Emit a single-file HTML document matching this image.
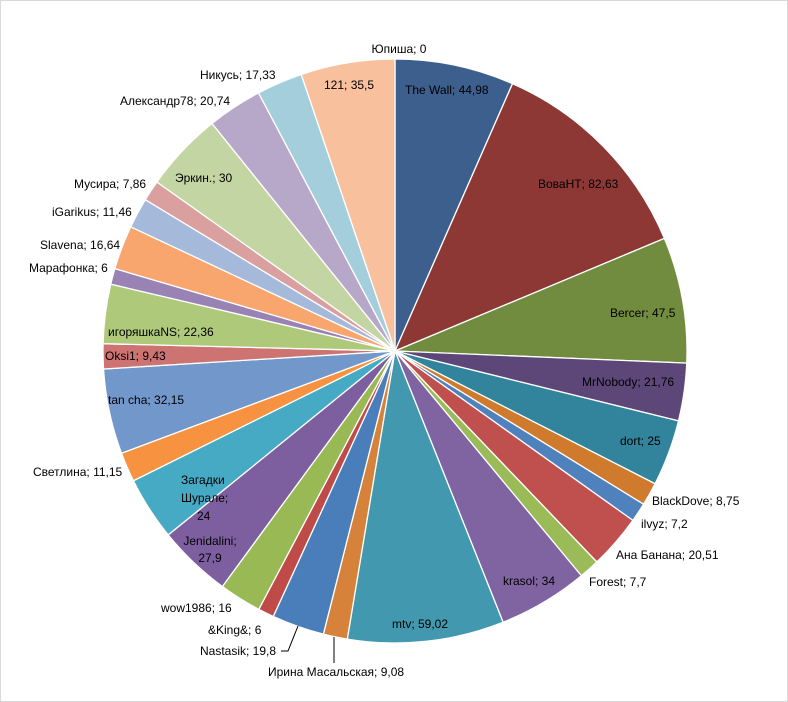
<!DOCTYPE html><html><head><meta charset="utf-8"><style>
body{margin:0;background:#fff}
#w{position:relative;width:786px;height:700px;border:1px solid #d9d9d9;overflow:hidden}
svg text{font-family:"Liberation Sans","DejaVu Sans",sans-serif;font-size:12px;fill:#000}
</style></head><body><div id="w">
<svg id="s" width="786" height="700" xmlns="http://www.w3.org/2000/svg">
<g id="p"></g>
<g>
<polyline points="297,625 287,650 280,650" fill="none" stroke="#000" stroke-width="1"/>
<line x1="333" y1="636" x2="333" y2="662" stroke="#000" stroke-width="1"/>
<text x="398" y="52" text-anchor="middle">Юпиша; 0</text>
<text x="404" y="93">The Wall; 44,98</text>
<text x="537" y="187">ВоваНТ; 82,63</text>
<text x="609" y="316">Bercer; 47,5</text>
<text x="581" y="385">MrNobody; 21,76</text>
<text x="619" y="444">dort; 25</text>
<text x="651" y="504">BlackDove; 8,75</text>
<text x="640" y="527">ilvyz; 7,2</text>
<text x="615" y="558">Ана Банана; 20,51</text>
<text x="588" y="585">Forest; 7,7</text>
<text x="502" y="584">krasol; 34</text>
<text x="391" y="627">mtv; 59,02</text>
<text x="267" y="675">Ирина Масальская; 9,08</text>
<text x="199" y="654">Nastasik; 19,8</text>
<text x="207" y="633">&amp;King&amp;; 6</text>
<text x="160" y="611">wow1986; 16</text>
<text x="209" y="544" text-anchor="middle">Jenidalini;</text>
<text x="209" y="561" text-anchor="middle">27,9</text>
<text x="180" y="483">Загадки</text>
<text x="180" y="501">Шурале;</text>
<text x="196" y="519">24</text>
<text x="32" y="475">Светлина; 11,15</text>
<text x="107" y="403">tan cha; 32,15</text>
<text x="104" y="359">Oksi1; 9,43</text>
<text x="107" y="335">игоряшкаNS; 22,36</text>
<text x="28" y="271">Марафонка; 6</text>
<text x="39" y="248">Slavena; 16,64</text>
<text x="51" y="215">iGarikus; 11,46</text>
<text x="73" y="187">Мусира; 7,86</text>
<text x="174" y="181">Эркин.; 30</text>
<text x="119" y="104">Александр78; 20,74</text>
<text x="199" y="78">Никусь; 17,33</text>
<text x="323" y="88">121; 35,5</text>
</g>
</svg>
<script>
var d=[[44.98,"#3D5F8E"],[82.63,"#8E3836"],[47.5,"#728C3F"],[21.76,"#5D4779"],[25,"#31849B"],[8.75,"#D07A2E"],[7.2,"#4F81BD"],[20.51,"#C0504D"],[7.7,"#9BBB59"],[34,"#8064A2"],[59.02,"#4198AF"],[9.08,"#D6823A"],[19.8,"#4A7EBB"],[6,"#BE4B48"],[16,"#98B954"],[27.9,"#7D5FA0"],[24,"#46AAC5"],[11.15,"#F69240"],[32.15,"#7297CB"],[9.43,"#CD7371"],[22.36,"#AFC97A"],[6,"#9983B5"],[16.64,"#F8A56E"],[11.46,"#A5B9DA"],[7.86,"#D9A09F"],[30,"#C3D5A2"],[20.74,"#B7A8CA"],[17.33,"#A5CEDC"],[35.5,"#F9C09D"]];
var cx=394,cy=350,r=292,t=0,sum=0;d.forEach(function(x){sum+=x[0]});
var h="";
d.forEach(function(x){var a0=t/sum*2*Math.PI;t+=x[0];var a1=t/sum*2*Math.PI;
var x0=cx+r*Math.sin(a0),y0=cy-r*Math.cos(a0),x1=cx+r*Math.sin(a1),y1=cy-r*Math.cos(a1);
var lg=(a1-a0)>Math.PI?1:0;
h+='<path d="M'+cx+','+cy+' L'+x0.toFixed(2)+','+y0.toFixed(2)+' A'+r+','+r+' 0 '+lg+' 1 '+x1.toFixed(2)+','+y1.toFixed(2)+' Z" fill="'+x[1]+'" stroke="#fff" stroke-width="1.3"/>';});
document.getElementById("p").innerHTML=h;
</script>
</div></body></html>
